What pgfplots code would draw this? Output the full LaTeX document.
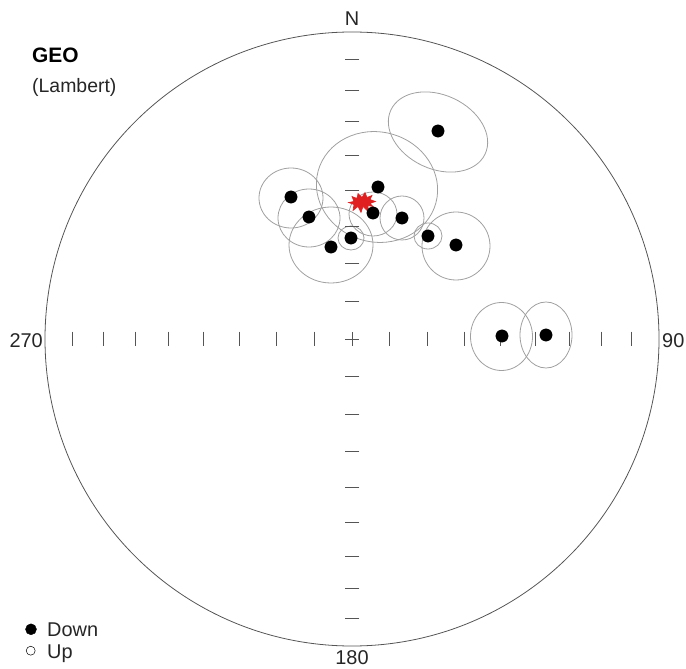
\documentclass[border=0pt]{standalone}
\usepackage{pgfplots}
\pgfplotsset{compat=1.18}
\usepackage{fontspec}
\setmainfont{Liberation Sans}
\definecolor{ellgray}{HTML}{A0A0A0}
\definecolor{netgray}{HTML}{555555}
\definecolor{meanred}{HTML}{E02020}
\begin{document}
\begin{tikzpicture}
\begin{axis}[
  width=686bp, height=666bp, scale only axis,
  xmin=0, xmax=686, ymin=0, ymax=666,
  hide axis, clip=false,
]
\path (axis cs:0,0) rectangle (axis cs:686,666);
% primitive circle
\draw[netgray, line width=0.8pt] (axis cs:352,327) circle [radius=307];
% ticks along E-W (equal-area, 10 deg)
\addplot[only marks, mark=|, mark size=7.5pt, mark options={netgray, line width=0.8pt}] coordinates {
 (72.8,327) (103,327) (134.9,327) (168.5,327) (203.5,327) (239.6,327) (276.7,327) (314.2,327)
 (389.8,327) (427.3,327) (464.4,327) (500.5,327) (535.5,327) (569.1,327) (601,327) (631.2,327)};
% ticks along N-S
\addplot[only marks, mark=-, mark size=7.5pt, mark options={netgray, line width=0.8pt}] coordinates {
 (352,606.2) (352,576) (352,544.1) (352,510.5) (352,475.5) (352,439.4) (352,402.3) (352,364.8)
 (352,289.2) (352,251.7) (352,214.6) (352,178.5) (352,143.5) (352,109.9) (352,78) (352,47.8)};
\addplot[only marks, mark=+, mark size=7pt, mark options={netgray, line width=0.8pt}] coordinates {(352,327)};
% confidence ellipses
\begin{scope}[ellgray, line width=0.8pt]
\draw (axis cs:438,534) ellipse [x radius=52, y radius=37, rotate=-25];
\draw (axis cs:377,479) ellipse [x radius=61, y radius=55, rotate=-15];
\draw (axis cs:373,452) ellipse [x radius=24, y radius=22];
\draw (axis cs:402,448) ellipse [x radius=22, y radius=22];
\draw (axis cs:291,468) ellipse [x radius=32, y radius=30];
\draw (axis cs:309,448) ellipse [x radius=31, y radius=29];
\draw (axis cs:351,428) ellipse [x radius=13, y radius=12];
\draw (axis cs:331,421) ellipse [x radius=42, y radius=38];
\draw (axis cs:428,430) ellipse [x radius=14, y radius=13];
\draw (axis cs:456,420) ellipse [x radius=34, y radius=34];
\draw (axis cs:501.5,329.5) ellipse [x radius=31, y radius=34];
\draw (axis cs:546,331) ellipse [x radius=26, y radius=33];
\end{scope}
% directions (down)
\addplot[only marks, mark=*, mark size=6.2pt, mark options={black, fill=black}] coordinates {
 (438,535) (378,479) (373,453) (402,448) (291,469) (309,449) (351,428) (331,419)
 (428,430) (456,421) (502,330) (546,331)};
% mean (red)
\addplot[fill=meanred, draw=meanred, line width=0.6pt] coordinates {
 (375.5,464.5) (370,466.5) (372,470.5) (367,468.5) (365,473.5) (362,468.5) (358,472.5) (357,467.5)
 (352,469.5) (354,464.5) (348.5,463.5) (354,461.5) (353,455.5) (358,459.5) (361,453.5) (363,459.5)
 (368,454.5) (368,460.5) (373,459.5) (370,462.5)} -- cycle;
% legend markers
\addplot[only marks, mark=*, mark size=5.5pt, mark options={black, fill=black}] coordinates {(31,36.7)};
\addplot[only marks, mark=o, mark size=4.5pt, mark options={black, line width=0.5pt}] coordinates {(30.7,15.3)};
% labels
\node[font=\fontsize{20}{24}\selectfont, text=black!85] at (axis cs:352,647) {N};
\node[font=\fontsize{20}{24}\selectfont, text=black!85] at (axis cs:352,8) {180};
\node[font=\fontsize{20}{24}\selectfont, text=black!85, anchor=east, inner sep=0pt] at (axis cs:43,325) {270};
\node[font=\fontsize{20}{24}\selectfont, text=black!85, anchor=west, inner sep=0pt] at (axis cs:662,325) {90};
\node[font=\fontsize{21}{24}\selectfont\bfseries, anchor=base west, inner sep=0pt] at (axis cs:32,603) {GEO};
\node[font=\fontsize{19.5}{24}\selectfont, text=black!85, anchor=base west, inner sep=0pt] at (axis cs:32,573) {(Lambert)};
\node[font=\fontsize{20}{24}\selectfont, text=black!85, anchor=base west, inner sep=0pt] at (axis cs:47,29.3) {Down};
\node[font=\fontsize{20}{24}\selectfont, text=black!85, anchor=base west, inner sep=0pt] at (axis cs:47,7.7) {Up};
\end{axis}
\end{tikzpicture}
\end{document}
